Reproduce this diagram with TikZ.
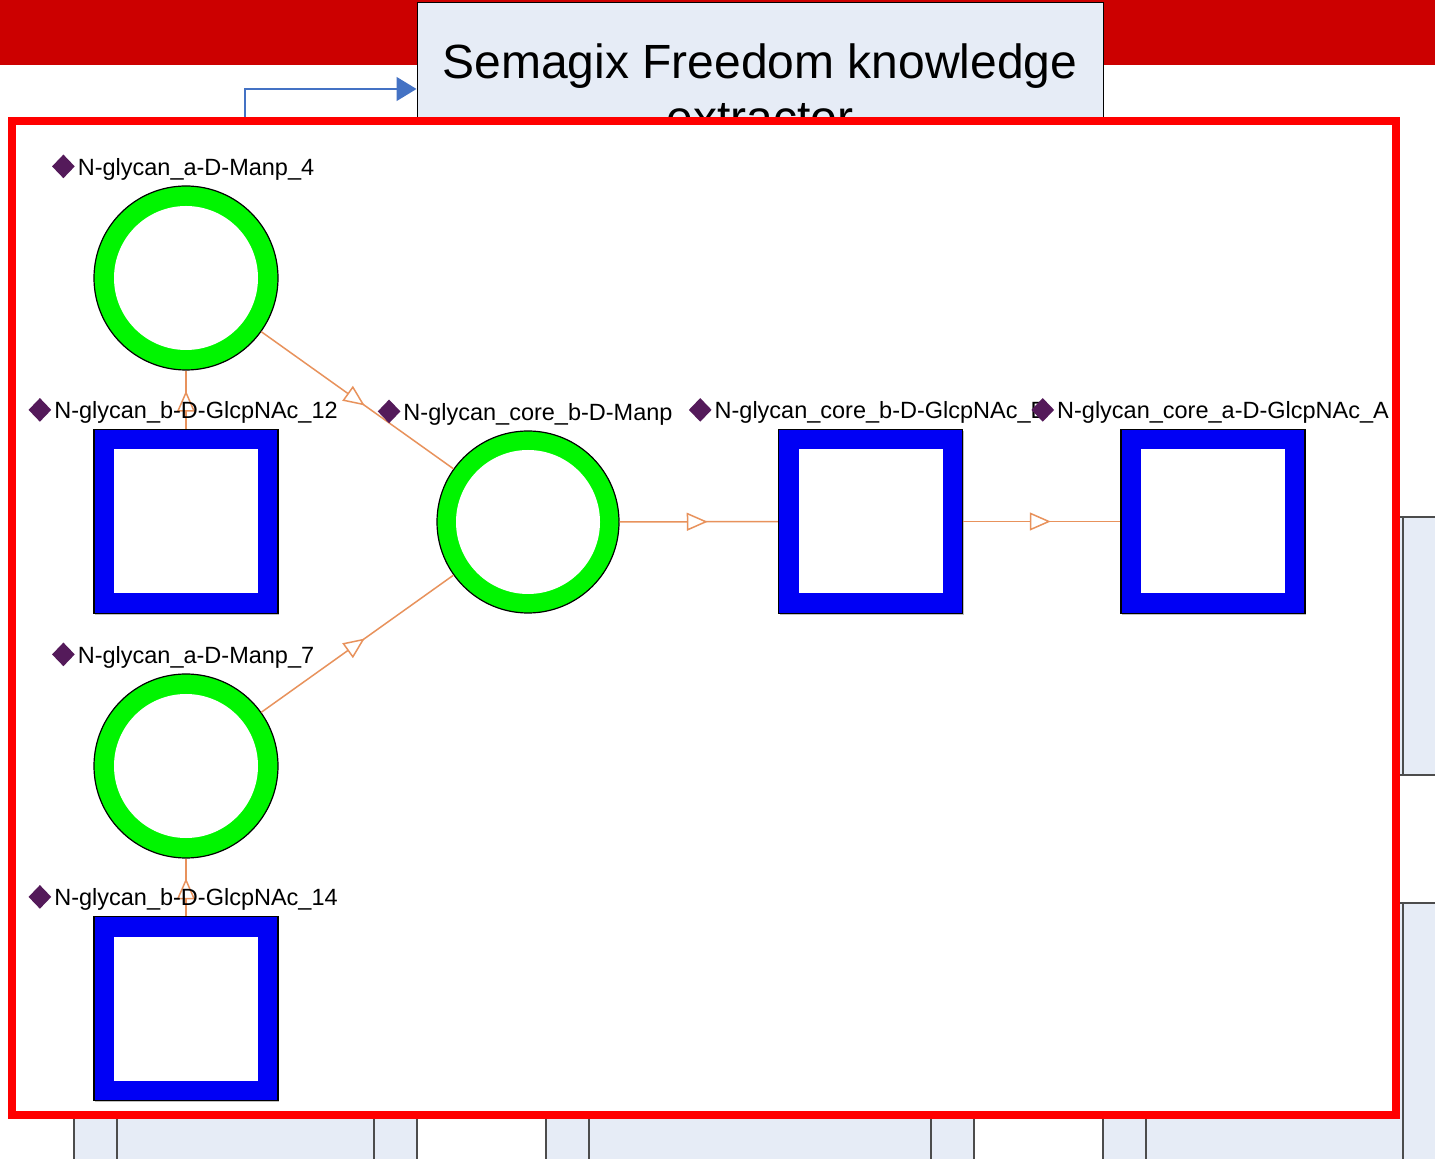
\documentclass[tikz,border=0pt]{standalone}
\usepackage{fontspec}
\setmainfont{Liberation Sans}
\usetikzlibrary{arrows.meta,shapes.geometric,decorations.markings,shadows}

\definecolor{bandred}{RGB}{204,0,0}
\definecolor{framered}{RGB}{255,0,0}
\definecolor{boxblue}{RGB}{230,236,246}
\definecolor{feedblue}{RGB}{68,114,196}
\definecolor{ringgreen}{RGB}{0,245,0}
\definecolor{sqblue}{RGB}{0,0,245}
\definecolor{linkorange}{RGB}{232,146,92}
\definecolor{gempurple}{RGB}{84,26,90}

\tikzset{
	sugar/.style={circle, draw=black, line width=0.6pt, fill=ringgreen, minimum size=92pt, inner sep=0pt,
		path picture={\fill[white] (path picture bounding box.center) circle (36pt);}},
	acetyl/.style={rectangle, draw=black, line width=0.6pt, fill=sqblue, minimum size=92pt, inner sep=0pt,
		drop shadow={shadow xshift=0.6pt, shadow yshift=-0.8pt, opacity=0.5},
		path picture={\fill[white] ([shift={(10pt,10pt)}]path picture bounding box.south west)
			rectangle ([shift={(-10pt,-10pt)}]path picture bounding box.north east);}},
	link/.style={draw=linkorange, line width=0.75pt, postaction={decorate},
		decoration={markings, mark=at position 0.5 with
			{\arrow[xshift=4.5pt]{Triangle[length=10.5pt, width=9pt, color=linkorange, fill=white]}}}},
	tag/.style={font=\fontsize{11.75pt}{14pt}\selectfont, inner sep=0pt, anchor=base},
	gem/.style={diamond, fill=gempurple, inner sep=0pt, minimum width=11.5pt, minimum height=12pt},
	titlebox/.style={draw=black, line width=0.5pt, fill=boxblue, minimum width=343pt, minimum height=86pt,
		align=center, inner sep=0pt, font=\fontsize{24pt}{28pt}\selectfont},
	flowbox/.style={draw=black!70, line width=0.6pt, fill=boxblue},
	feedline/.style={draw=feedblue, line width=0.75pt, -{Triangle[length=10pt, width=12pt]}}
}

% label above a glycan node: diamond + residue name
\newcommand\glytag[3]{
	\node[tag] (#1) at ([xshift=5pt, yshift=5pt]#2.north) {#3};
	\node[gem] at ([xshift=-7pt, yshift=4.5pt]#1.base west) {};
}

\begin{document}
\begin{tikzpicture}[x=0.5pt, y=-0.5pt]
	\useasboundingbox (0,0) rectangle (1435,1159);
	\clip (0,0) rectangle (1435,1159);

	% slide background
	\fill[bandred] (0,0) rectangle (1435,65);
	\foreach \t/\b in {517/775, 903/1200} {
		\draw[flowbox] (1360,\t) rectangle (1700,\b);
		\draw[flowbox] (1403,\t) -- (1403,\b);
	}
	\foreach \l/\r in {74/417, 546/974, 1103/1446} {
		\fill[boxblue] (\l,1100) rectangle (\r,1200);
		\foreach \x in {\l, \l+43, \r-43, \r}
			\draw[flowbox] (\x,1100) -- (\x,1200);
	}

	\node[titlebox] (extractor) at (760,89) {Semagix Freedom knowledge\\extractor};
	\coordinate (feedin) at (245,118);
	\draw[feedline] (feedin) |- (extractor.west);

	% highlighted panel
	\draw[framered, line width=4pt, fill=white] (12,121.5) rectangle (1395.5,1114.5);

	% glycan structure
	\node[sugar] (m4) at (186,278) {};
	\node[acetyl] (gn12) at (186,521.5) {};
	\node[sugar, minimum size=91pt] (core) at (528,522) {};
	\node[acetyl] (gnb) at (870.5,521.5) {};
	\node[acetyl] (gna) at (1213,521.5) {};
	\node[sugar] (m7) at (186,766) {};
	\node[acetyl] (gn14) at (186,1008.5) {};

	\draw[link] (gn12) -- (m4);
	\draw[link] (gn14) -- (m7);
	\draw[link] (m4) -- (core);
	\draw[link] (m7) -- (core);
	\draw[link] (core) -- (gnb);
	\draw[link] (gnb) -- (gna);

	\glytag{m4t}{m4}{N-glycan\_a-D-Manp\_4}
	\glytag{gn12t}{gn12}{N-glycan\_b-D-GlcpNAc\_12}
	\glytag{coret}{core}{N-glycan\_core\_b-D-Manp}
	\glytag{gnbt}{gnb}{N-glycan\_core\_b-D-GlcpNAc\_B}
	\glytag{gnat}{gna}{N-glycan\_core\_a-D-GlcpNAc\_A}
	\glytag{m7t}{m7}{N-glycan\_a-D-Manp\_7}
	\glytag{gn14t}{gn14}{N-glycan\_b-D-GlcpNAc\_14}
\end{tikzpicture}
\end{document}
